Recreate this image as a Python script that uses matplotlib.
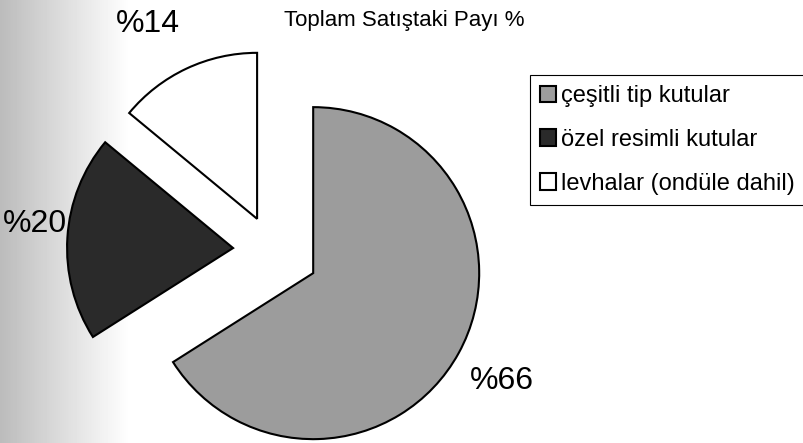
import numpy as np
import matplotlib.pyplot as plt

# data
labels = ["çeşitli tip kutular", "özel resimli kutular", "levhalar (ondüle dahil)"]
shares = [66, 20, 14]
pct_text = ["%66", "%20", "%14"]
title = "Toplam Satıştaki Payı %"

plt.rcParams['font.family'] = ['Liberation Sans', 'DejaVu Sans']

W, H = 804, 443
fig = plt.figure(figsize=(W / 100, H / 100), dpi=100)
ax = fig.add_axes([0, 0, 1, 1])

# grey band fading out on the left edge of the scan
band = np.linspace(0.68, 1.0, 130) ** 0.8
ax.imshow(band[None, :], extent=(0, 130, 0, H), cmap='gray', vmin=0, vmax=1,
          aspect='auto', zorder=0)

# pie in pixel units: radius 166 px, slices pulled apart
cx, cy, R = 272, H - 250.5, 166
wedges, _ = ax.pie(shares, explode=(47, 39, 35), radius=R, center=(cx, cy),
                   colors=['#9c9c9c', '#2a2a2a', 'white'],
                   startangle=90, counterclock=False,
                   wedgeprops=dict(edgecolor='black', linewidth=1.5))

# percentage labels
ax.text(502, H - 381, pct_text[0], ha='center', va='center', fontsize=23)
ax.text(35, H - 224, pct_text[1], ha='center', va='center', fontsize=23)
ax.text(148, H - 24, pct_text[2], ha='center', va='center', fontsize=23)

ax.text(404, H - 20, title, ha='center', va='center', fontsize=16)

leg = ax.legend(wedges, labels, loc='upper left',
                bbox_to_anchor=(530 / W, 1 - 75 / H), borderaxespad=0,
                frameon=True, fancybox=False, edgecolor='black', framealpha=1,
                borderpad=0.42, handlelength=0.68, handleheight=0.68,
                handletextpad=0.2, labelspacing=0.93, fontsize=17)
leg.get_frame().set_linewidth(0.8)

ax.set_xlim(0, W)
ax.set_ylim(0, H)
ax.axis('off')

fig.savefig('out.png', dpi=100)
